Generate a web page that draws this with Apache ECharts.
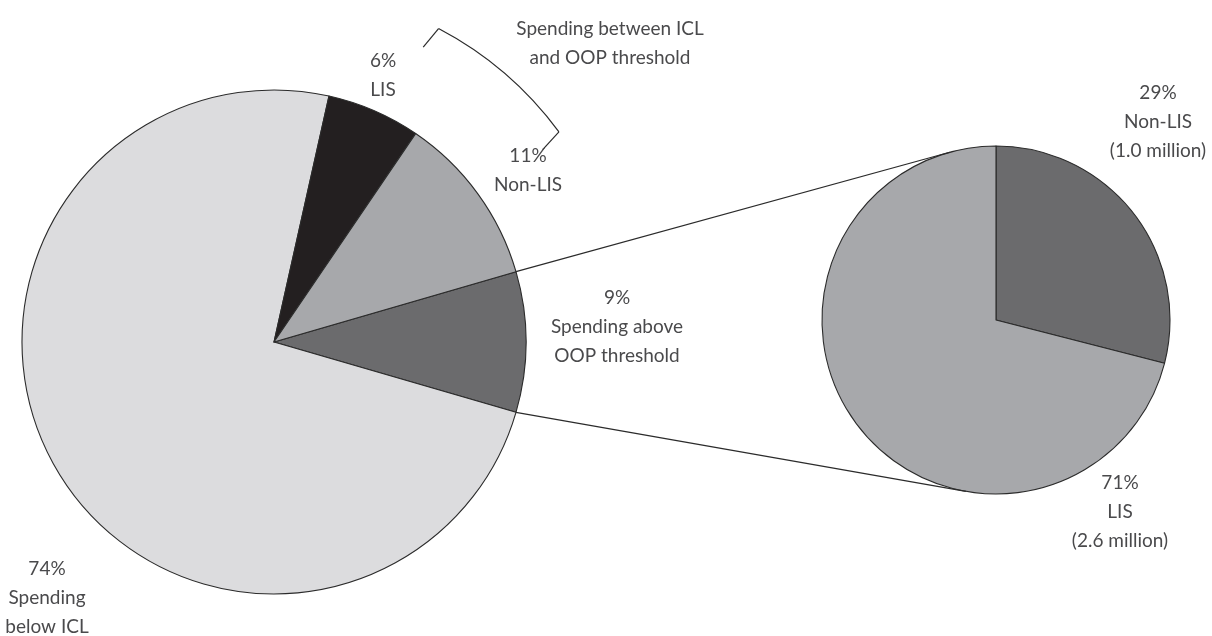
<!DOCTYPE html>
<html>
<head>
<meta charset="utf-8">
<script src="https://cdn.jsdelivr.net/npm/echarts@6/dist/echarts.min.js"></script>
<style>
  html, body { margin: 0; padding: 0; background: #ffffff; }
  #chart { width: 1212px; height: 636px; }
</style>
</head>
<body>
<div id="chart"></div>
<script>
// Part D spending distribution: main pie and breakdown of the "above OOP threshold" slice
const mainCategories = ['Spending above\nOOP threshold', 'Spending\nbelow ICL', 'LIS', 'Non-LIS'];
const mainValues = [9, 74, 6, 11];
const detailCategories = ['Non-LIS', 'LIS'];
const detailValues = [29, 71];
const detailCounts = ['(1.0 million)', '(2.6 million)'];
const bracketLabel = 'Spending between ICL\nand OOP threshold';

const FONT = 'Lato, "Open Sans", sans-serif';
const TEXT_COLOR = '#4a4a4c';
const EDGE = '#2b2b2b';

// geometry of the two pies
const big = { cx: 274, cy: 342, r: 252 };
const small = { cx: 996, cy: 320, r: 174 };

const mainColors = ['#6b6b6d', '#dcdcde', '#231f20', '#a7a8ab'];
const detailColors = ['#6b6b6d', '#a7a8ab'];

const mainSum = mainValues.reduce((a, b) => a + b, 0);
// first slice is centred on the horizontal axis, pointing towards the detail pie
const halfAngle = mainValues[0] / mainSum * 180;

const mainLabelPos = [[617, 327], [47, 598], [383, 75], [528, 170]];
const detailLabelPos = [[1158, 122], [1120, 512]];

const textStyleBase = {
  color: TEXT_COLOR,
  fontFamily: FONT,
  fontSize: 19,
  lineHeight: 29,
  align: 'center'
};

// connector lines: from the edges of the first slice, tangent to the detail pie
function tangentLine(angleDeg, upper) {
  const a = angleDeg * Math.PI / 180;
  const px = big.cx + big.r * Math.cos(a);
  const py = big.cy - big.r * Math.sin(a);
  const dx = small.cx - px, dy = small.cy - py;
  const d = Math.hypot(dx, dy);
  const theta = Math.atan2(dy, dx);
  const alpha = Math.asin(small.r / d);
  const len = Math.sqrt(d * d - small.r * small.r);
  const t = upper ? theta - alpha : theta + alpha;
  return {
    type: 'line',
    z: 10,
    shape: { x1: px, y1: py, x2: px + len * Math.cos(t), y2: py + len * Math.sin(t) },
    style: { stroke: EDGE, lineWidth: 1.2 }
  };
}

// bracket grouping the two "between ICL and OOP threshold" slices
const bracketR = big.r + 102;
const bracketFrom = 36.4, bracketTo = 62.3, hookLen = 24;
function hook(angleDeg, tilt) {
  const a = angleDeg * Math.PI / 180;
  const x = big.cx + bracketR * Math.cos(a);
  const y = big.cy - bracketR * Math.sin(a);
  const b = a + tilt * Math.PI / 180;
  return {
    type: 'line',
    shape: { x1: x, y1: y, x2: x - hookLen * Math.cos(b), y2: y + hookLen * Math.sin(b) },
    style: { stroke: EDGE, lineWidth: 1.2 }
  };
}

const chart = echarts.init(document.getElementById('chart'), null, { renderer: 'canvas' });

chart.setOption({
  backgroundColor: '#ffffff',
  animation: false,
  series: [
    {
      type: 'pie',
      center: [big.cx, big.cy],
      radius: big.r,
      startAngle: halfAngle,
      clockwise: true,
      avoidLabelOverlap: false,
      minAngle: 0,
      data: mainValues.map((v, i) => ({
        value: v,
        name: mainCategories[i],
        itemStyle: { color: mainColors[i] }
      })),
      itemStyle: { borderColor: EDGE, borderWidth: 1.1 },
      label: Object.assign({
        show: true,
        position: 'outside',
        formatter: p => p.value + '%\n' + p.name
      }, textStyleBase),
      labelLine: { show: false },
      labelLayout: p => ({
        x: mainLabelPos[p.dataIndex][0],
        y: mainLabelPos[p.dataIndex][1],
        align: 'center',
        verticalAlign: 'middle'
      }),
      emphasis: { disabled: true }
    },
    {
      type: 'pie',
      center: [small.cx, small.cy],
      radius: small.r,
      startAngle: 90,
      clockwise: true,
      avoidLabelOverlap: false,
      data: detailValues.map((v, i) => ({
        value: v,
        name: detailCategories[i],
        itemStyle: { color: detailColors[i] }
      })),
      itemStyle: { borderColor: EDGE, borderWidth: 1.1 },
      label: Object.assign({
        show: true,
        position: 'outside',
        formatter: p => p.value + '%\n' + p.name + '\n' + detailCounts[p.dataIndex]
      }, textStyleBase),
      labelLine: { show: false },
      labelLayout: p => ({
        x: detailLabelPos[p.dataIndex][0],
        y: detailLabelPos[p.dataIndex][1],
        align: 'center',
        verticalAlign: 'middle'
      }),
      emphasis: { disabled: true }
    }
  ],
  graphic: [
    tangentLine(halfAngle, true),
    tangentLine(-halfAngle, false),
    {
      type: 'arc',
      shape: {
        cx: big.cx, cy: big.cy, r: bracketR,
        startAngle: -bracketTo * Math.PI / 180,
        endAngle: -bracketFrom * Math.PI / 180,
        clockwise: true
      },
      style: { stroke: EDGE, lineWidth: 1.2, fill: null }
    },
    hook(bracketTo, -12),
    hook(bracketFrom, 11),
    {
      type: 'text',
      x: 610,
      y: 43,
      style: {
        text: bracketLabel,
        fill: TEXT_COLOR,
        font: '19px ' + FONT,
        lineHeight: 29,
        align: 'center',
        verticalAlign: 'middle'
      }
    }
  ]
});
</script>
</body>
</html>
